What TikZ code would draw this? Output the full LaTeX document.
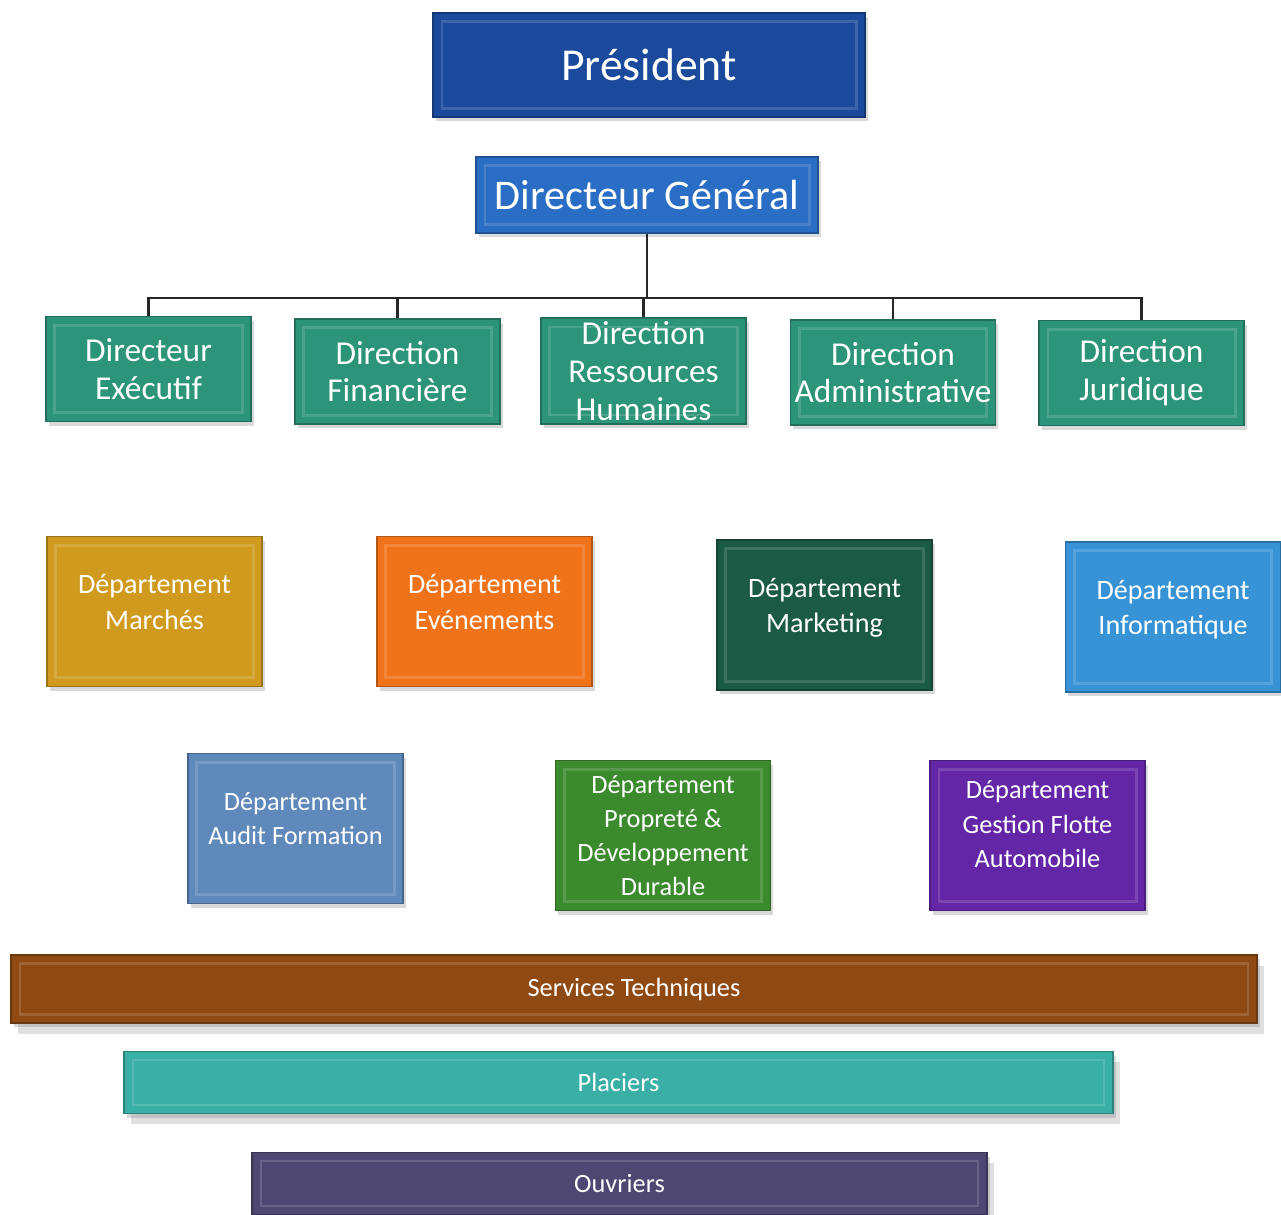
\documentclass[tikz,border=0pt]{standalone}
\usepackage{fontspec}
\setmainfont{Carlito}
\usetikzlibrary{shadows}
\definecolor{presblue}{HTML}{1B4A9C}
\definecolor{dgblue}{HTML}{2A6DC4}
\definecolor{dirteal}{HTML}{2C9478}
\definecolor{gold}{HTML}{CF9A1E}
\definecolor{orange}{HTML}{F0731A}
\definecolor{darkgreen}{HTML}{1B5A45}
\definecolor{skyblue}{HTML}{3793D6}
\definecolor{steel}{HTML}{5F88BB}
\definecolor{grassgreen}{HTML}{3C8A2E}
\definecolor{violet}{HTML}{6226A6}
\definecolor{brown}{HTML}{8E4A12}
\definecolor{lagoon}{HTML}{3AAFA5}
\definecolor{slate}{HTML}{4E4772}
\tikzset{
  box/.style={rectangle,fill=#1,draw=#1!75!black,line width=.8pt,text=white,align=center,inner sep=2pt,
    drop shadow={opacity=.3,shadow xshift=1.5pt,shadow yshift=-2.5pt},
    path picture={\draw[white,opacity=.15,line width=1.5pt]
      ([xshift=5pt,yshift=-5pt]path picture bounding box.north west) rectangle
      ([xshift=-5pt,yshift=5pt]path picture bounding box.south east);}},
  dirbox/.style={box=dirteal,minimum width=4.1cm,minimum height=2.1cm,font=\fontsize{19}{21.5}\selectfont},
  depbox/.style={box=#1,minimum width=4.3cm,minimum height=3cm,font=\fontsize{16}{20.4}\selectfont},
  subfont/.style={font=\fontsize{15}{19.5}\selectfont},
  bar/.style={box=#1,minimum height=1.25cm,font=\fontsize{15}{18}\selectfont,
    drop shadow={opacity=.25,shadow xshift=4pt,shadow yshift=-6pt}},
  link/.style={line width=1.3pt,black!85}
}
\begin{document}
\begin{tikzpicture}[x=0.02cm,y=-0.02cm]
\useasboundingbox (0,0) rectangle (1281,1214);
% top of the chart
\node[box=presblue,minimum width=8.64cm,minimum height=2.08cm,font=\fontsize{26}{30}\selectfont] (pres) at (649,65) {Président};
\node[box=dgblue,minimum width=6.84cm,minimum height=1.52cm,font=\fontsize{24}{28}\selectfont] (dg) at (647,195) {Directeur Général};
% directions
\node[dirbox] (dexec) at (148.5,369) {Directeur\\Exécutif};
\node[dirbox] (dfin) at (397.5,371.5) {Direction\\Financière};
\node[dirbox] (drh) at (643.5,371) {Direction\\Ressources\\Humaines};
\node[dirbox] (dadm) at (893,372.5) {Direction\\Administrative};
\node[dirbox] (djur) at (1141.5,373) {Direction\\Juridique};
\draw[link] (dg.south) -- (dg.south |- 0,298) coordinate (bus);
\foreach \d in {dexec,dfin,drh,dadm,djur}
  \draw[link] (bus) -| (\d.north);
% departements
\node[depbox=gold] (marches) at (154.5,611.5) {Département\\Marchés\\[-9.5pt]};
\node[depbox=orange] (events) at (484.5,611.5) {Département\\Evénements\\[-9.5pt]};
\node[depbox=darkgreen] (marketing) at (824.5,615) {Département\\Marketing\\[-9.5pt]};
\node[depbox=skyblue] (info) at (1173,617) {Département\\Informatique\\[-9.5pt]};
\node[depbox=steel,subfont] (audit) at (295.5,828.5) {Département\\Audit Formation\\[-8pt]};
\node[depbox=grassgreen,subfont] (proprete) at (663,835.5) {Département\\Propreté \&\\Développement\\Durable};
\node[depbox=violet,subfont] (flotte) at (1037.5,835.5) {Département\\Gestion Flotte\\Automobile\\[-6.5pt]};
% services
\node[bar=brown,minimum width=24.92cm,minimum height=1.36cm] (serv) at (634,989) {Services Techniques};
\node[bar=lagoon,minimum width=19.78cm] (plac) at (618.5,1082.5) {Placiers};
\node[bar=slate,minimum width=14.7cm] (ouvr) at (619.5,1183.5) {Ouvriers};
\end{tikzpicture}
\end{document}
